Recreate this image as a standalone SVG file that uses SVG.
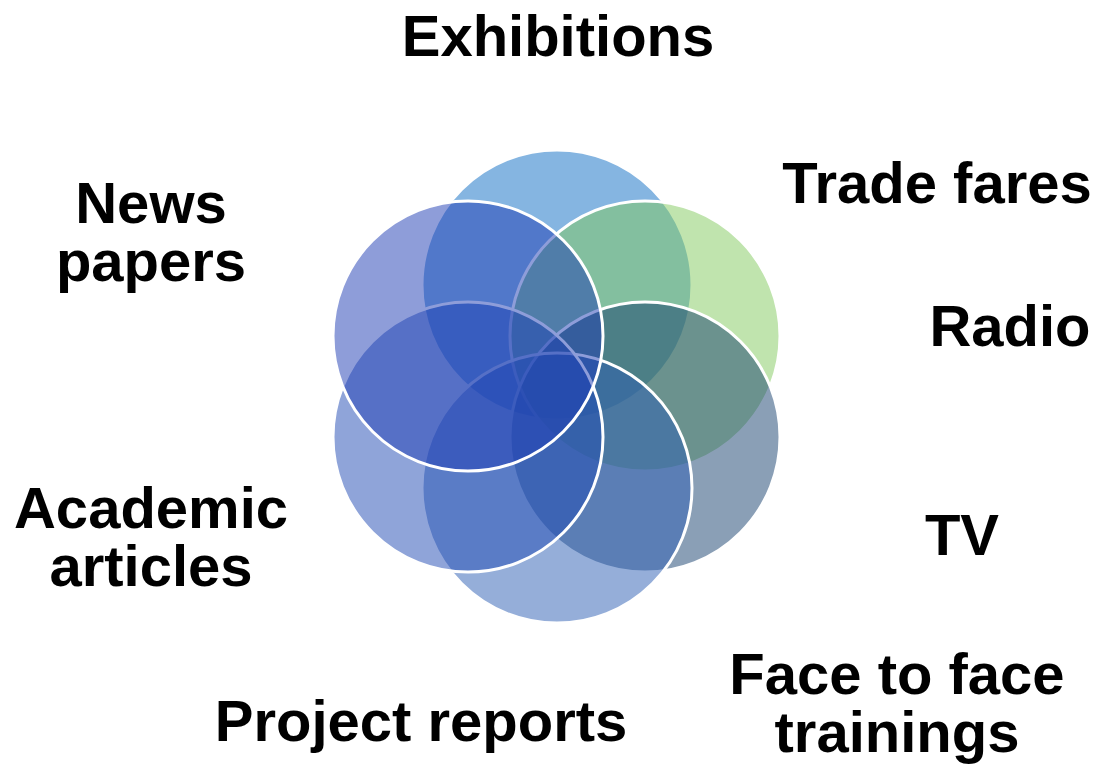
<svg xmlns="http://www.w3.org/2000/svg" width="1099" height="766" viewBox="0 0 1099 766">
<style>
.c{stroke:#ffffff;stroke-width:3;fill-opacity:0.5}
.t{font-family:"Liberation Sans",Arial,sans-serif;font-weight:bold;font-size:58px;fill:#000000;text-anchor:middle}
</style>
<rect width="1099" height="766" fill="#ffffff"/>
<g id="circles">
<g id="c-top"><circle class="c" cx="557" cy="285" r="135" fill="#0b6bc3"/></g>
<g id="c-upper-right"><circle class="c" cx="645" cy="336" r="135" fill="#81c95d"/></g>
<g id="c-lower-right"><circle class="c" cx="645" cy="437" r="135" fill="#153f6d"/></g>
<g id="c-bottom"><circle class="c" cx="557" cy="488" r="135" fill="#2b5db3"/></g>
<g id="c-lower-left"><circle class="c" cx="468" cy="437" r="135" fill="#1f49b3"/></g>
<g id="c-upper-left"><circle class="c" cx="468" cy="336" r="135" fill="#1d3bb3"/></g>
</g>
<g id="connectors"/>
<g id="labels">
<g id="l-exhibitions"><text class="t" x="558" y="56">Exhibitions</text></g>
<g id="l-trade"><text class="t" x="937" y="203">Trade fares</text></g>
<g id="l-radio"><text class="t" x="1010" y="346">Radio</text></g>
<g id="l-tv"><text class="t" x="962" y="555">TV</text></g>
<g id="l-face"><text class="t" x="897" y="694">Face to face</text><text class="t" x="897" y="752">trainings</text></g>
<g id="l-project"><text class="t" x="421" y="741">Project reports</text></g>
<g id="l-academic"><text class="t" x="151" y="528">Academic</text><text class="t" x="151" y="586">articles</text></g>
<g id="l-news"><text class="t" x="151" y="223">News</text><text class="t" x="151" y="281">papers</text></g>
</g>
</svg>
